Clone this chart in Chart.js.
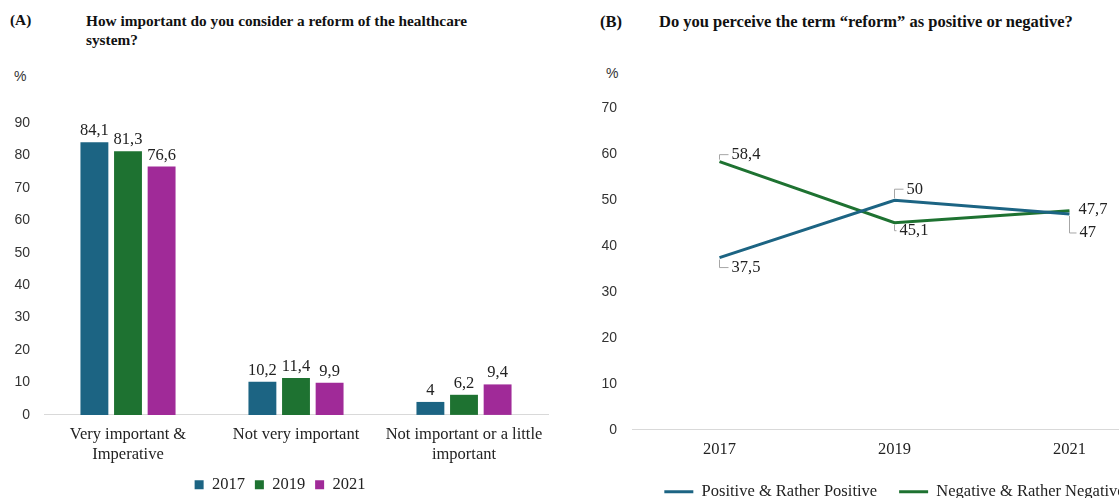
<!DOCTYPE html>
<html lang="en">
<head>
    <meta charset="UTF-8">
    <title>Healthcare reform survey</title>
    <script src="https://cdn.jsdelivr.net/npm/chart.js"></script>
    <style>
        body { margin: 0; width: 1119px; height: 498px; overflow: hidden; position: relative; background: #fff; }
        .panel { position: absolute; font-family: "Liberation Serif", serif; font-weight: bold; color: #111; }
        .unit { position: absolute; font-family: "Liberation Sans", sans-serif; font-size: 14px; color: #333; }
        .box { position: absolute; }
    </style>
</head>
<body>
    <div class="panel" style="left:10px; top:11px; font-size:15.3px;">(A)</div>
    <div class="panel" style="left:86px; top:11px; font-size:15.3px; line-height:19px;">How important do you consider a reform of the healthcare<br>system?</div>
    <div class="unit" style="left:14px; top:68px;">%</div>

    <div class="panel" style="left:600px; top:12px; font-size:16.5px;">(B)</div>
    <div class="panel" style="left:659px; top:12px; font-size:16.5px;">Do you perceive the term “reform” as positive or negative?</div>
    <div class="unit" style="left:606px; top:65px;">%</div>

    <div class="box" style="left:0; top:108px; width:560px; height:395px;"><canvas id="importanceChart"></canvas></div>
    <div class="box" style="left:560px; top:93px; width:669px; height:417px;"><canvas id="perceptionChart"></canvas></div>

    <script>
        // (A) importance of a reform, % of respondents
        const importanceCategories = [['Very important &', 'Imperative'], ['Not very important'], ['Not important or a little', 'important']];
        const importance2017 = [84.1, 10.2, 4];
        const importance2019 = [81.3, 11.4, 6.2];
        const importance2021 = [76.6, 9.9, 9.4];

        // (B) perception of the term "reform", %
        const surveyYears = ['2017', '2019', '2021'];
        const positiveShare = [37.5, 50, 47];
        const negativeShare = [58.4, 45.1, 47.7];

        const blue = '#1c6483';
        const green = '#1e7231';
        const magenta = '#a02a98';
        const serif = 'Liberation Serif';
        const sans = 'Liberation Sans';

        const fmt = v => String(v).replace('.', ',');

        // value labels above each bar
        const barLabels = {
            id: 'barLabels',
            afterDatasetsDraw(chart) {
                const ctx = chart.ctx;
                ctx.save();
                ctx.font = '16.5px "' + serif + '"';
                ctx.fillStyle = '#222';
                ctx.textAlign = 'center';
                ctx.textBaseline = 'bottom';
                chart.data.datasets.forEach((ds, i) => {
                    chart.getDatasetMeta(i).data.forEach((bar, j) => {
                        ctx.fillText(fmt(ds.data[j]), bar.x, bar.y - 3);
                    });
                });
                ctx.restore();
            }
        };

        // label offsets (px) from each point, per series: [dx, dy]
        const lineLabelOffsets = [
            [[12, 10], [12, -11], [10, 19]],
            [[12, -7], [5, 8], [9, -1]]
        ];

        const lineLabels = {
            id: 'lineLabels',
            afterDatasetsDraw(chart) {
                const ctx = chart.ctx;
                ctx.save();
                ctx.font = '16.5px "' + serif + '"';
                ctx.textBaseline = 'middle';
                ctx.textAlign = 'left';
                chart.data.datasets.forEach((ds, i) => {
                    chart.getDatasetMeta(i).data.forEach((pt, j) => {
                        const [dx, dy] = lineLabelOffsets[i][j];
                        const tx = pt.x + dx, ty = pt.y + dy;
                        if (Math.abs(dy) > 4) {
                            ctx.strokeStyle = '#a6a6a6';
                            ctx.lineWidth = 1;
                            ctx.beginPath();
                            ctx.moveTo(pt.x, pt.y + Math.sign(dy) * 2);
                            ctx.lineTo(pt.x, ty);
                            ctx.lineTo(tx - 3, ty);
                            ctx.stroke();
                        }
                        ctx.fillStyle = '#222';
                        ctx.fillText(fmt(ds.data[j]), tx, ty);
                    });
                });
                ctx.restore();
            }
        };

        // empty right-hand axis, only used as spacing so the legend stays centred
        const spacerAxis = w => ({
            position: 'right',
            grid: { display: false },
            border: { display: false },
            ticks: { display: false },
            afterFit: s => { s.width = w; }
        });

        new Chart(document.getElementById('importanceChart'), {
            type: 'bar',
            data: {
                labels: importanceCategories,
                datasets: [
                    { label: '2017', data: importance2017, backgroundColor: blue },
                    { label: '2019', data: importance2019, backgroundColor: green },
                    { label: '2021', data: importance2021, backgroundColor: magenta }
                ]
            },
            options: {
                responsive: true,
                maintainAspectRatio: false,
                animation: false,
                categoryPercentage: 0.6,
                barPercentage: 0.83,
                layout: { padding: { top: 15, right: 0, left: 0, bottom: 0 } },
                plugins: {
                    legend: {
                        position: 'bottom',
                        labels: { boxWidth: 9, boxHeight: 9, padding: 10, color: '#222', font: { family: serif, size: 16.5 } }
                    },
                    tooltip: { enabled: false }
                },
                scales: {
                    x: {
                        grid: { display: false },
                        border: { color: '#d9d9d9' },
                        ticks: { color: '#222', padding: 2, font: { family: serif, size: 16.5 } }
                    },
                    y: {
                        min: 0,
                        max: 90,
                        afterFit: s => { s.width = 44; },
                        grid: { display: false },
                        border: { display: false },
                        ticks: { stepSize: 10, padding: 6, color: '#333', font: { family: sans, size: 14 } }
                    },
                    spacer: spacerAxis(12)
                }
            },
            plugins: [barLabels]
        });

        new Chart(document.getElementById('perceptionChart'), {
            type: 'line',
            data: {
                labels: surveyYears,
                datasets: [
                    { label: 'Positive & Rather Positive', data: positiveShare, borderColor: blue, backgroundColor: blue, borderWidth: 3, pointRadius: 0, tension: 0 },
                    { label: 'Negative & Rather Negative', data: negativeShare, borderColor: green, backgroundColor: green, borderWidth: 3, pointRadius: 0, tension: 0 }
                ]
            },
            options: {
                responsive: true,
                maintainAspectRatio: false,
                animation: false,
                layout: { padding: { top: 6, right: 0, left: 0, bottom: 0 } },
                plugins: {
                    legend: {
                        position: 'bottom',
                        labels: {
                            boxWidth: 29,
                            boxHeight: 3,
                            padding: 22,
                            color: '#222',
                            font: { family: serif, size: 16.5 },
                            generateLabels: chart => Chart.defaults.plugins.legend.labels.generateLabels(chart).map(l => ({ ...l, lineWidth: 0 }))
                        }
                    },
                    tooltip: { enabled: false }
                },
                scales: {
                    x: {
                        offset: true,
                        grid: { display: false },
                        border: { color: '#d9d9d9' },
                        ticks: { color: '#222', padding: 2, font: { family: serif, size: 16.5 } }
                    },
                    y: {
                        min: 0,
                        max: 70,
                        afterFit: s => { s.width = 72; },
                        grid: { display: false },
                        border: { display: false },
                        ticks: { stepSize: 10, padding: 7, color: '#333', font: { family: sans, size: 14 } }
                    },
                    spacer: spacerAxis(72)
                }
            },
            plugins: [lineLabels]
        });
    </script>
</body>
</html>
